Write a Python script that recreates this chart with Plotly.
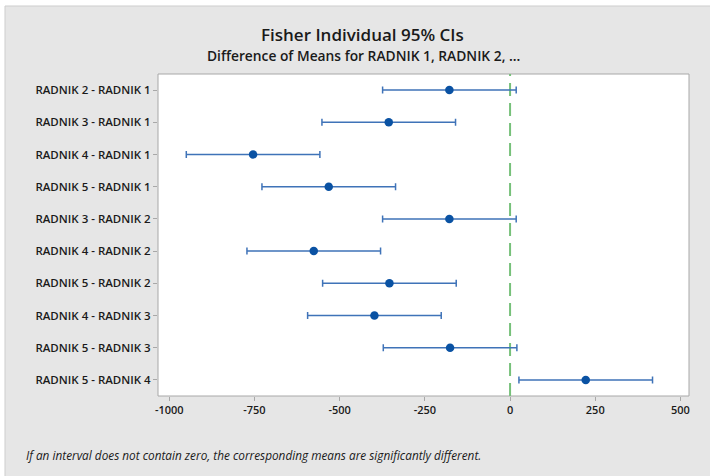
import plotly.graph_objects as go

comparisons = [
    "RADNIK 2 - RADNIK 1", "RADNIK 3 - RADNIK 1", "RADNIK 4 - RADNIK 1",
    "RADNIK 5 - RADNIK 1", "RADNIK 3 - RADNIK 2", "RADNIK 4 - RADNIK 2",
    "RADNIK 5 - RADNIK 2", "RADNIK 4 - RADNIK 3", "RADNIK 5 - RADNIK 3",
    "RADNIK 5 - RADNIK 4",
]
diff_means = [-178, -356, -754, -532, -178, -576, -354, -398, -176, 222]
lower_ci = [-374, -552, -950, -728, -374, -772, -550, -594, -372, 26]
upper_ci = [18, -160, -558, -336, 18, -380, -158, -202, 20, 418]
x_ticks = [-1000, -750, -500, -250, 0, 250, 500]

err_plus = [u - m for u, m in zip(upper_ci, diff_means)]
err_minus = [m - l for m, l in zip(diff_means, lower_ci)]

W, H = 710, 476
L, R, T, B = 158, 21, 74, 80
pw, ph = W - L - R, H - T - B


def px(x):
    return (x - L) / pw


def py(y):
    return (H - B - y) / ph


fig = go.Figure()
fig.add_trace(go.Scatter(
    x=diff_means, y=comparisons, mode="markers",
    marker=dict(color="#0a52a3", size=8.5),
    error_x=dict(type="data", symmetric=False, array=err_plus, arrayminus=err_minus,
                 color="#3f73b8", thickness=1.5, width=3.5),
    showlegend=False, hoverinfo="x+y",
))

shapes = [
    dict(type="rect", xref="paper", yref="paper", x0=px(5), x1=px(712), y0=py(478), y1=py(6),
         fillcolor="#e6e6e6", line=dict(color="#cdcdcd", width=1), layer="below"),
    dict(type="rect", xref="paper", yref="paper", x0=0, x1=1, y0=0, y1=1,
         fillcolor="white", line=dict(color="#a8a8a8", width=1), layer="below"),
    dict(type="line", xref="x", yref="paper", x0=0, x1=0, y0=0, y1=1,
         line=dict(color="#77c17a", width=2, dash="13px,7px"), layer="below"),
]

fig.update_layout(
    width=W, height=H,
    margin=dict(l=L, r=R, t=T, b=B, pad=0),
    paper_bgcolor="white", plot_bgcolor="rgba(0,0,0,0)",
    shapes=shapes,
    font=dict(family="Open Sans", color="#1a1a1a"),
    annotations=[
        dict(text="Fisher Individual 95% CIs", xref="paper", yref="paper",
             x=px(362), y=py(35), xanchor="center", yanchor="middle", showarrow=False,
             font=dict(size=17, color="#1a1a1a", family="Open Sans", weight=600)),
        dict(text="Difference of Means for RADNIK 1, RADNIK 2, ...", xref="paper", yref="paper",
             x=px(363), y=py(55), xanchor="center", yanchor="middle", showarrow=False,
             font=dict(size=13.8, color="#1a1a1a", family="Open Sans", weight=600)),
        dict(text="<i>If an interval does not contain zero, the corresponding means are significantly different.</i>",
             xref="paper", yref="paper", x=px(24), y=py(455), xanchor="left", yanchor="middle",
             showarrow=False, font=dict(size=11.8, color="#1a1a1a", family="Open Sans")),
    ],
)
fig.update_xaxes(
    range=[-1033, 525], tickvals=x_ticks, ticktext=[str(v) for v in x_ticks],
    showgrid=False, zeroline=False, ticks="outside", ticklen=4, tickcolor="#a8a8a8",
    tickfont=dict(size=11, color="#1a1a1a", family="Open Sans", weight=600),
    showline=False,
)
fig.update_yaxes(
    categoryorder="array", categoryarray=comparisons, range=[9.5, -0.5],
    showgrid=False, zeroline=False, ticks="outside", ticklen=4, tickcolor="#a8a8a8",
    tickfont=dict(size=11.5, color="#1a1a1a", family="Open Sans", weight=600),
    showline=False,
)

fig.write_html("out.html", config={"displayModeBar": False},
               post_script="document.body.style.margin='0';document.body.style.overflow='hidden';")
